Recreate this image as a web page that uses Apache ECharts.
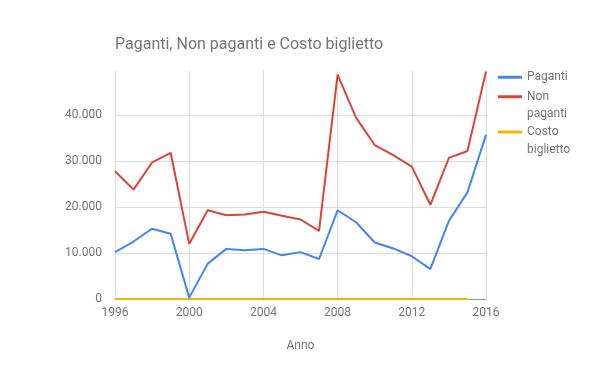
<!DOCTYPE html>
<html>
<head>
<meta charset="utf-8">
<script src="https://cdn.jsdelivr.net/npm/echarts@6/dist/echarts.min.js"></script>
<style>html,body{margin:0;padding:0;background:#fff}#c{width:600px;height:371px}</style>
</head>
<body>
<div id="c"></div>
<script>
const years = [1996,1997,1998,1999,2000,2001,2002,2003,2004,2005,2006,2007,2008,2009,2010,2011,2012,2013,2014,2015,2016];
const paganti = [10200,12500,15300,14200,300,7700,10900,10600,10900,9500,10200,8700,19300,16700,12300,11000,9300,6500,17000,23200,35700];
const nonPaganti = [27800,23800,29700,31800,12000,19300,18200,18400,19000,18100,17300,14800,48800,39400,33500,31300,28800,20500,30700,32200,49500];
const costoYears = [1996,1997,1998,1999,2000,2001,2002,2003,2004,2005,2006,2007,2008,2009,2010,2011,2012,2013,2014,2015];
const costo = [4,4,4,5,5,5,5,6,6,6,6,7,7,7,7,8,8,8,8,8];
const yTicks = [0,10000,20000,30000,40000];

const FONT = 'Roboto, Arial, sans-serif';
const GREY = '#757575';
const chart = echarts.init(document.getElementById('c'), null, {renderer:'canvas'});
const pair = (xs, ys) => xs.map((x,i)=>[x, ys[i]]);
const fmt = v => yTicks.indexOf(v) < 0 ? '' : (v === 0 ? '0' : (v/1000).toFixed(0) + '.000');
const legendText = {fontFamily:FONT, fontSize:12, color:GREY, lineHeight:17.5};
const legendBase = {left:498, padding:0, orient:'vertical', icon:'rect', itemWidth:24, itemHeight:3, textStyle:legendText};

chart.setOption({
  animation:false,
  textStyle:{fontFamily:FONT},
  title:{text:'Paganti, Non paganti e Costo biglietto', left:115, top:37, padding:0,
    textStyle:{fontFamily:FONT, fontSize:16, fontWeight:'normal', color:GREY}},
  grid:{left:115, right:114, top:71, bottom:72, containLabel:false},
  legend:[
    Object.assign({}, legendBase, {top:68.5, data:['Paganti']}),
    Object.assign({}, legendBase, {top:70.5, data:['Non paganti'], formatter:()=>' \nNon\npaganti'}),
    Object.assign({}, legendBase, {top:105.75, data:['Costo biglietto'], formatter:()=>' \nCosto\nbiglietto'})
  ],
  xAxis:{type:'value', min:1996, max:2016, interval:4,
    name:'Anno', nameLocation:'middle', nameGap:41,
    nameTextStyle:{fontFamily:FONT, fontSize:12, color:GREY},
    axisLine:{show:true, onZero:false, lineStyle:{color:'#999', width:1}},
    axisTick:{show:false},
    axisLabel:{fontFamily:FONT, fontSize:12, color:GREY, margin:8, formatter:v=>String(v)},
    splitLine:{show:true, lineStyle:{color:'#dddddd', width:1}}},
  yAxis:{type:'value', min:0, max:49600, interval:10000,
    axisLine:{show:false}, axisTick:{show:false},
    axisLabel:{fontFamily:FONT, fontSize:12, color:GREY, margin:13, formatter:fmt, showMaxLabel:false},
    splitLine:{show:true, showMaxLine:false, lineStyle:{color:'#dddddd', width:1}}},
  series:[
    {name:'Paganti', type:'line', data:pair(years,paganti), showSymbol:false, symbol:'none',
     lineStyle:{width:2, color:'#4285F4'}, itemStyle:{color:'#4285F4'}},
    {name:'Non paganti', type:'line', data:pair(years,nonPaganti), showSymbol:false, symbol:'none',
     lineStyle:{width:2, color:'#DB4437'}, itemStyle:{color:'#DB4437'}},
    {name:'Costo biglietto', type:'line', data:pair(costoYears,costo), showSymbol:false, symbol:'none',
     lineStyle:{width:2, color:'#F4B400'}, itemStyle:{color:'#F4B400'}}
  ]
});
</script>
</body>
</html>
